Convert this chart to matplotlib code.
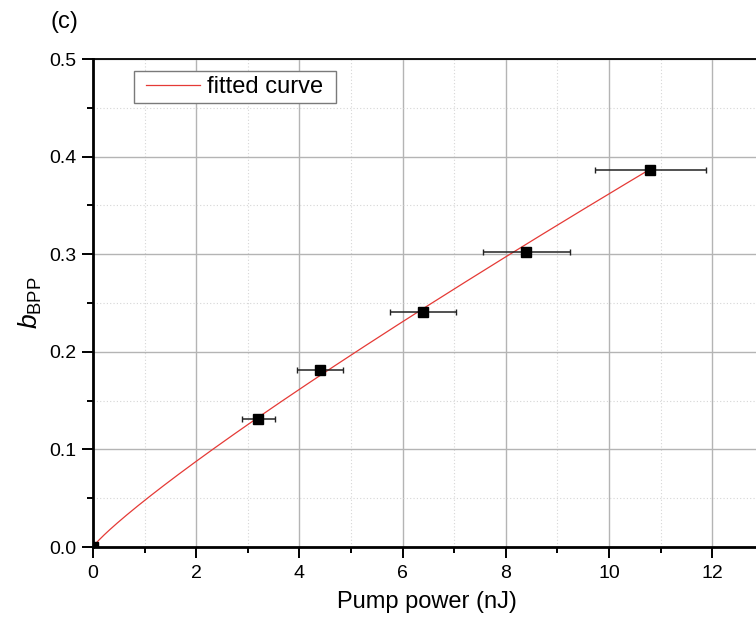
import matplotlib
matplotlib.use("Agg")
import matplotlib.pyplot as plt
import numpy as np
from matplotlib.patches import Rectangle
from matplotlib.ticker import MultipleLocator

plt.rcParams['font.family'] = ['Liberation Sans', 'DejaVu Sans']
plt.rcParams['mathtext.fontset'] = 'custom'
plt.rcParams['mathtext.rm'] = 'Liberation Sans'
plt.rcParams['mathtext.it'] = 'Liberation Sans:italic'
plt.rcParams['mathtext.bf'] = 'Liberation Sans:bold'

# Measured data
pump_power = [0.0, 3.2, 4.4, 6.4, 8.4, 10.8]          # nJ
b_bpp = [0.0, 0.131, 0.181, 0.241, 0.302, 0.386]
pump_err = [0.0, 0.32, 0.44, 0.64, 0.84, 1.08]

# Power-law fit  b = A * P**K
fit_A = 0.0477
fit_K = 0.88

x_ticks = [0, 2, 4, 6, 8, 10, 12]
y_ticks = [0.0, 0.1, 0.2, 0.3, 0.4, 0.5]
y_ticklabels = ['0.0', '0.1', '0.2', '0.3', '0.4', '0.5']

W, H = 756, 621
fig = plt.figure(figsize=(W / 100, H / 100), dpi=100)

x_max = 14.0
px_per_unit = 51.6
ax_w_px = x_max * px_per_unit
ax = fig.add_axes([93 / W, (H - 547) / H, ax_w_px / W, (547 - 59) / H])

# fitted curve
xf = np.linspace(0, pump_power[-1], 300)
yf = fit_A * xf ** fit_K
ax.plot(xf, yf, color='#e53a36', lw=0.9, zorder=3, label='fitted curve')

# data with horizontal error bars
ax.errorbar(pump_power, b_bpp, xerr=pump_err, fmt='s', color='black',
            ms=6.8, ecolor='#222222', elinewidth=1.1, capsize=2.3,
            capthick=1.0, zorder=4)

ax.set_xlim(0, x_max)
ax.set_ylim(0, 0.5)
ax.set_xticks(x_ticks)
ax.set_yticks(y_ticks)
ax.set_yticklabels(y_ticklabels)
ax.xaxis.set_minor_locator(MultipleLocator(1))
ax.yaxis.set_minor_locator(MultipleLocator(0.05))

ax.grid(which='major', color='#b4b4b4', lw=1.0, ls='-', zorder=0)
ax.grid(which='minor', color='#d6d6d6', lw=0.8, ls=(0, (1, 2)), zorder=0)
ax.set_axisbelow(True)

ax.tick_params(which='major', direction='out', length=8, width=1.4,
               labelsize=14, color='black')
ax.tick_params(which='minor', direction='out', length=4, width=1.4,
               color='black')
ax.tick_params(axis='x', which='major', pad=5)
ax.tick_params(axis='y', which='major', pad=4)

for side in ('left', 'bottom'):
    ax.spines[side].set_linewidth(2.0)
ax.spines['top'].set_linewidth(1.3)
ax.spines['right'].set_visible(False)

ax.set_xlabel('Pump power (nJ)', fontsize=17)
ax.xaxis.set_label_coords((427 - 93) / ax_w_px, -0.09)
ax.set_ylabel(r'$b_{\mathrm{BPP}}$', fontsize=19, labelpad=4)

# legend box and entry
box = Rectangle((134 / W, 1 - 103 / H), 202 / W, 32 / H, transform=fig.transFigure,
                facecolor='white', edgecolor='#7a7a7a', lw=1.0, zorder=5,
                clip_on=False)
ax.add_patch(box)
leg = ax.legend(loc='center left', bbox_to_anchor=(146 / W, 1 - 87 / H),
                bbox_transform=fig.transFigure, frameon=False, fontsize=17,
                handlelength=2.3, handletextpad=0.3, borderpad=0,
                borderaxespad=0)
leg.set_zorder(7)

fig.text(50 / W, 1 - 22 / H, '(c)', fontsize=17, va='center', ha='left')

fig.savefig('out.png', dpi=100)
